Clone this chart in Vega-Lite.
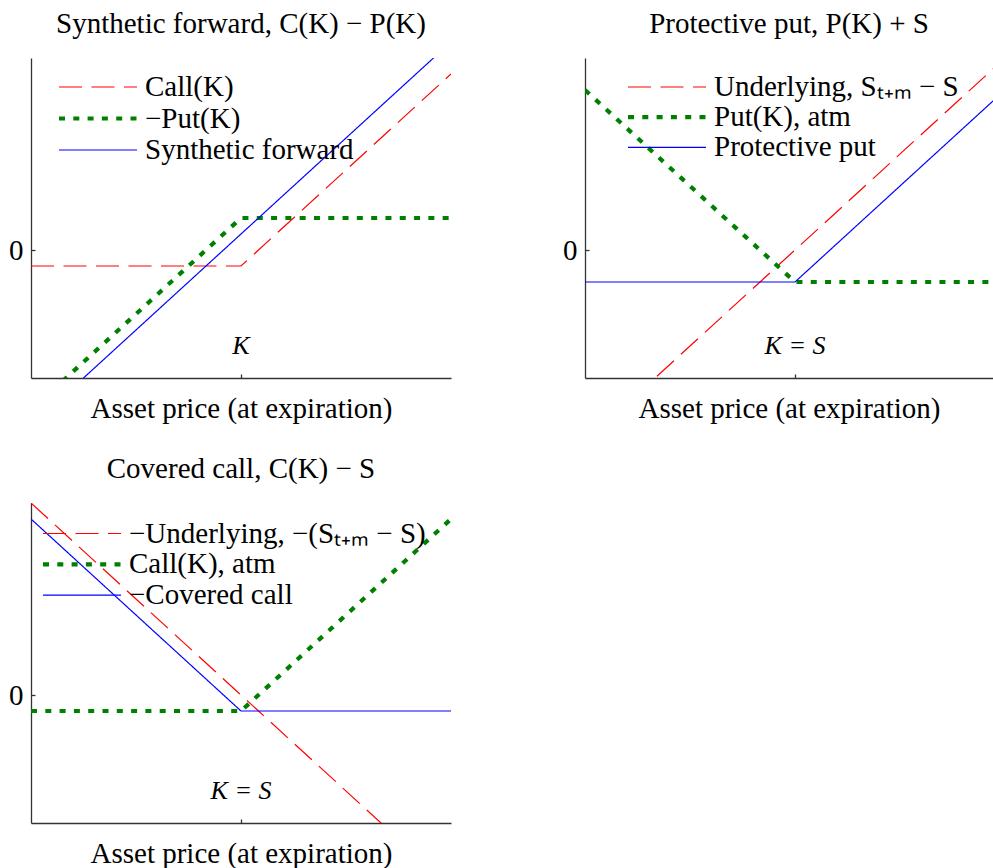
{
  "$schema": "https://vega.github.io/schema/vega-lite/v6.json",
  "background": "white",
  "padding": {"left": 8, "top": 10, "right": 0, "bottom": 0},
  "columns": 2,
  "spacing": {"row": 31, "column": 111},
  "resolve": {
    "scale": {"color": "independent", "strokeDash": "independent", "strokeWidth": "independent"},
    "legend": {"color": "independent", "strokeDash": "independent", "strokeWidth": "independent"}
  },
  "config": {
    "view": {"stroke": null},
    "font": "Liberation Serif",
    "title": {"font": "Liberation Serif", "fontSize": 29, "fontWeight": "normal", "color": "black", "offset": 19},
    "axis": {
      "domainColor": "#333333", "domainWidth": 1.3, "tickColor": "#333333", "tickWidth": 1.3,
      "grid": false,
      "labelFont": "Liberation Serif", "labelFontSize": 29, "labelColor": "black",
      "titleFont": "Liberation Serif", "titleFontSize": 29, "titleFontWeight": "normal", "titleColor": "black"
    },
    "legend": {
      "orient": "none", "title": null, "symbolType": "M-1.45,0H6.35", "symbolSize": 400,
      "labelFont": "Liberation Serif", "labelFontSize": 29, "labelColor": "black",
      "labelOffset": 57, "rowPadding": 1.5, "labelLimit": 600, "padding": 0
    }
  },
  "concat": [
    {
      "width": 420, "height": 320,
      "title": "Synthetic forward, C(K) − P(K)",
      "layer": [
        {
          "data": {"values": [
            {"series": "Call(K)", "x": 0, "y": -0.5}, {"series": "Call(K)", "x": 5, "y": -0.5}, {"series": "Call(K)", "x": 10, "y": 5.5},
            {"series": "−Put(K)", "x": 0, "y": -5}, {"series": "−Put(K)", "x": 5, "y": 1}, {"series": "−Put(K)", "x": 10, "y": 1},
            {"series": "Synthetic forward", "x": 0, "y": -5.5}, {"series": "Synthetic forward", "x": 5, "y": 0.5}, {"series": "Synthetic forward", "x": 10, "y": 6.5}
          ]},
          "mark": {"type": "line", "clip": true},
          "encoding": {
            "x": {"field": "x", "type": "quantitative", "scale": {"domain": [0, 10], "nice": false, "zero": false},
                  "axis": {"values": [5], "labels": false, "tickSize": -4, "title": "Asset price (at expiration)", "titlePadding": 16}},
            "y": {"field": "y", "type": "quantitative", "scale": {"domain": [-4, 6], "nice": false, "zero": false},
                  "axis": {"values": [0], "tickSize": -4, "labelPadding": 12, "title": null}},
            "color": {"field": "series", "type": "nominal",
                      "scale": {"domain": ["Call(K)", "−Put(K)", "Synthetic forward"], "range": ["#ff0000", "#008000", "#0000ff"]},
                      "legend": {"legendX": 28, "legendY": 14.5, "rowPadding": 1.5}},
            "strokeDash": {"field": "series", "type": "nominal",
                      "scale": {"domain": ["Call(K)", "−Put(K)", "Synthetic forward"], "range": [[23, 9.5], [6, 8.3], [1, 0]]}},
            "strokeWidth": {"field": "series", "type": "nominal",
                      "scale": {"type": "ordinal", "domain": ["Call(K)", "−Put(K)", "Synthetic forward"], "range": [1.2, 4.2, 1.2]}}
          }
        },
        {
          "data": {"values": [{"x": 5, "y": -3.25, "label": "K"}]},
          "mark": {"type": "text", "font": "Liberation Serif", "fontSize": 26, "fontStyle": "italic", "baseline": "alphabetic", "align": "center", "color": "black"},
          "encoding": {
            "x": {"field": "x", "type": "quantitative"},
            "y": {"field": "y", "type": "quantitative"},
            "text": {"field": "label"}
          }
        }
      ]
    },
    {
      "width": 408, "height": 320,
      "title": "Protective put, P(K) + S",
      "layer": [
        {
          "data": {"values": [
            {"series": "Underlying, Sₜ₊ₘ − S", "x": 0, "y": -6}, {"series": "Underlying, Sₜ₊ₘ − S", "x": 5, "y": 0}, {"series": "Underlying, Sₜ₊ₘ − S", "x": 10, "y": 6},
            {"series": "Put(K), atm", "x": 0, "y": 5}, {"series": "Put(K), atm", "x": 5, "y": -1}, {"series": "Put(K), atm", "x": 10, "y": -1},
            {"series": "Protective put", "x": 0, "y": -1}, {"series": "Protective put", "x": 5, "y": -1}, {"series": "Protective put", "x": 10, "y": 5}
          ]},
          "mark": {"type": "line", "clip": true},
          "encoding": {
            "x": {"field": "x", "type": "quantitative", "scale": {"domain": [0, 9.714], "nice": false, "zero": false},
                  "axis": {"values": [5], "labels": false, "tickSize": -4, "title": "Asset price (at expiration)", "titlePadding": 16}},
            "y": {"field": "y", "type": "quantitative", "scale": {"domain": [-4, 6], "nice": false, "zero": false},
                  "axis": {"values": [0], "tickSize": -4, "labelPadding": 12, "title": null}},
            "color": {"field": "series", "type": "nominal",
                      "scale": {"domain": ["Underlying, Sₜ₊ₘ − S", "Put(K), atm", "Protective put"], "range": ["#ff0000", "#008000", "#0000ff"]},
                      "legend": {"legendX": 43, "legendY": 14.5, "rowPadding": 0.2}},
            "strokeDash": {"field": "series", "type": "nominal",
                      "scale": {"domain": ["Underlying, Sₜ₊ₘ − S", "Put(K), atm", "Protective put"], "range": [[23, 9.5], [6, 8.3], [1, 0]]}},
            "strokeWidth": {"field": "series", "type": "nominal",
                      "scale": {"type": "ordinal", "domain": ["Underlying, Sₜ₊ₘ − S", "Put(K), atm", "Protective put"], "range": [1.2, 4.2, 1.2]}}
          }
        },
        {
          "data": {"values": [{"x": 5, "y": -3.25, "label": "K = S"}]},
          "mark": {"type": "text", "font": "Liberation Serif", "fontSize": 26, "fontStyle": "italic", "baseline": "alphabetic", "align": "center", "color": "black"},
          "encoding": {
            "x": {"field": "x", "type": "quantitative"},
            "y": {"field": "y", "type": "quantitative"},
            "text": {"field": "label"}
          }
        }
      ]
    },
    {
      "width": 420, "height": 320,
      "title": "Covered call, C(K) − S",
      "layer": [
        {
          "data": {"values": [
            {"series": "−Underlying, −(Sₜ₊ₘ − S)", "x": 0, "y": 6}, {"series": "−Underlying, −(Sₜ₊ₘ − S)", "x": 5, "y": 0}, {"series": "−Underlying, −(Sₜ₊ₘ − S)", "x": 10, "y": -6},
            {"series": "Call(K), atm", "x": 0, "y": -0.5}, {"series": "Call(K), atm", "x": 5, "y": -0.5}, {"series": "Call(K), atm", "x": 10, "y": 5.5},
            {"series": "−Covered call", "x": 0, "y": 5.5}, {"series": "−Covered call", "x": 5, "y": -0.5}, {"series": "−Covered call", "x": 10, "y": -0.5}
          ]},
          "mark": {"type": "line", "clip": true},
          "encoding": {
            "x": {"field": "x", "type": "quantitative", "scale": {"domain": [0, 10], "nice": false, "zero": false},
                  "axis": {"values": [5], "labels": false, "tickSize": -4, "title": "Asset price (at expiration)", "titlePadding": 16}},
            "y": {"field": "y", "type": "quantitative", "scale": {"domain": [-4, 6], "nice": false, "zero": false},
                  "axis": {"values": [0], "tickSize": -4, "labelPadding": 12, "title": null}},
            "color": {"field": "series", "type": "nominal",
                      "scale": {"domain": ["−Underlying, −(Sₜ₊ₘ − S)", "Call(K), atm", "−Covered call"], "range": ["#ff0000", "#008000", "#0000ff"]},
                      "legend": {"legendX": 12, "legendY": 16, "rowPadding": 0.8}},
            "strokeDash": {"field": "series", "type": "nominal",
                      "scale": {"domain": ["−Underlying, −(Sₜ₊ₘ − S)", "Call(K), atm", "−Covered call"], "range": [[23, 9.5], [6, 8.3], [1, 0]]}},
            "strokeWidth": {"field": "series", "type": "nominal",
                      "scale": {"type": "ordinal", "domain": ["−Underlying, −(Sₜ₊ₘ − S)", "Call(K), atm", "−Covered call"], "range": [1.2, 4.2, 1.2]}}
          }
        },
        {
          "data": {"values": [{"x": 5, "y": -3.25, "label": "K = S"}]},
          "mark": {"type": "text", "font": "Liberation Serif", "fontSize": 26, "fontStyle": "italic", "baseline": "alphabetic", "align": "center", "color": "black"},
          "encoding": {
            "x": {"field": "x", "type": "quantitative"},
            "y": {"field": "y", "type": "quantitative"},
            "text": {"field": "label"}
          }
        }
      ]
    }
  ]
}
